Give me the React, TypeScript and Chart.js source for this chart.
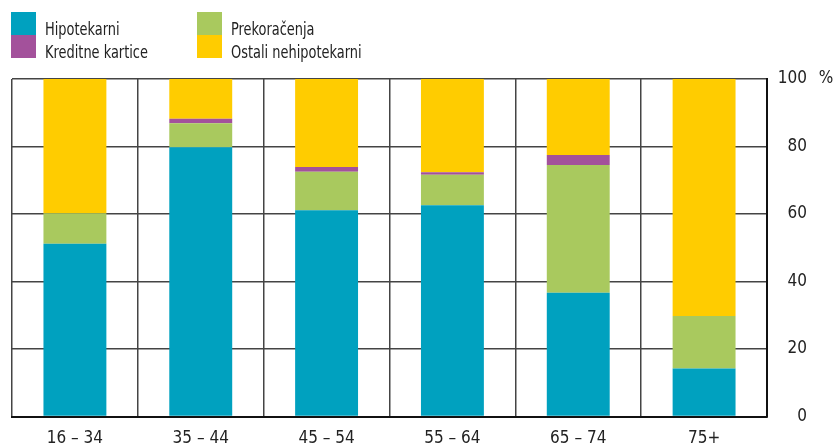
import React, { useEffect, useRef } from "react";
import { Chart, registerables } from "chart.js";

Chart.register(...registerables);

const categories = ["16 – 34", "35 – 44", "45 – 54", "55 – 64", "65 – 74", "75+"];
const hipotekarni = [51.2, 79.8, 61.1, 62.6, 36.7, 14.2];
const prekoracenja = [9.0, 7.1, 11.4, 9.0, 37.8, 15.6];
const kreditne = [0, 1.3, 1.4, 0.8, 3.0, 0];
const ostali = [39.8, 11.8, 26.1, 27.6, 22.5, 70.2];
const yTicks = [0, 20, 40, 60, 80, 100];

const BLUE = "#00A1BF";
const GREEN = "#A9C95E";
const PURPLE = "#A3519B";
const YELLOW = "#FFCC00";
const FONT = "'Liberation Sans Narrow', 'DejaVu Sans Condensed', 'Roboto', sans-serif";

const legendItems = [
  { label: "Hipotekarni", color: BLUE, x: 11, y: 12 },
  { label: "Kreditne kartice", color: PURPLE, x: 11, y: 35 },
  { label: "Prekoračenja", color: GREEN, x: 197, y: 12 },
  { label: "Ostali nehipotekarni", color: YELLOW, x: 197, y: 35 },
];

export default function App() {
  const ref = useRef<HTMLCanvasElement | null>(null);

  useEffect(() => {
    document.body.style.margin = "0";
    const pctPlugin = {
      id: "pct",
      afterDraw(chart: any) {
        const y = chart.scales.y.getPixelForValue(100);
        const ctx = chart.ctx;
        ctx.save();
        ctx.font = `17px ${FONT}`;
        ctx.fillStyle = "#222";
        ctx.textAlign = "center";
        ctx.textBaseline = "middle";
        ctx.fillText("%", 826, y);
        ctx.restore();
      },
    };
    const chart = new Chart(ref.current!, {
      type: "bar",
      data: {
        labels: categories,
        datasets: [
          { label: "Hipotekarni", data: hipotekarni, backgroundColor: BLUE },
          { label: "Prekoračenja", data: prekoracenja, backgroundColor: GREEN },
          { label: "Kreditne kartice", data: kreditne, backgroundColor: PURPLE },
          { label: "Ostali nehipotekarni", data: ostali, backgroundColor: YELLOW },
        ],
      },
      options: {
        animation: false,
        responsive: false,
        maintainAspectRatio: false,
        layout: { padding: { top: 79, left: 12, right: 28, bottom: 0 } },
        plugins: { legend: { display: false }, tooltip: { enabled: false } },
        datasets: { bar: { categoryPercentage: 1, barPercentage: 0.5 } },
        scales: {
          x: {
            stacked: true,
            grid: { offset: true, color: "#444", lineWidth: 1.5, drawTicks: false },
            border: { color: "#111", width: 2 },
            ticks: { font: { family: FONT, size: 17 }, color: "#222", padding: 12 },
            afterFit: (s: any) => { s.height = 31.5; },
          },
          y: {
            stacked: true,
            position: "right",
            min: 0,
            max: 100,
            afterBuildTicks: (s: any) => { s.ticks = yTicks.map((v) => ({ value: v })); },
            grid: { color: "#444", lineWidth: 1.5, drawTicks: false },
            border: { color: "#111", width: 2 },
            ticks: { font: { family: FONT, size: 17 }, color: "#222", padding: 8, crossAlign: "far" },
            afterFit: (s: any) => { s.width = 40; },
          },
        },
      },
      plugins: [pctPlugin],
    } as any);
    return () => chart.destroy();
  }, []);

  return (
    <div style={{ position: "relative", width: 835, height: 448 }}>
      <canvas ref={ref} width={835} height={448} style={{ display: "block" }} />
      {legendItems.map((it) => (
        <div key={it.label} style={{ position: "absolute", left: it.x, top: it.y, height: 23, display: "flex", alignItems: "flex-start" }}>
          <div style={{ width: 25, height: 23, background: it.color }} />
          <span style={{ marginLeft: 9, marginTop: 5, fontFamily: FONT, fontSize: 18, color: "#222", lineHeight: "23px", display: "inline-block", transform: "scaleX(0.8)", transformOrigin: "left center", whiteSpace: "nowrap" }}>{it.label}</span>
        </div>
      ))}
    </div>
  );
}
